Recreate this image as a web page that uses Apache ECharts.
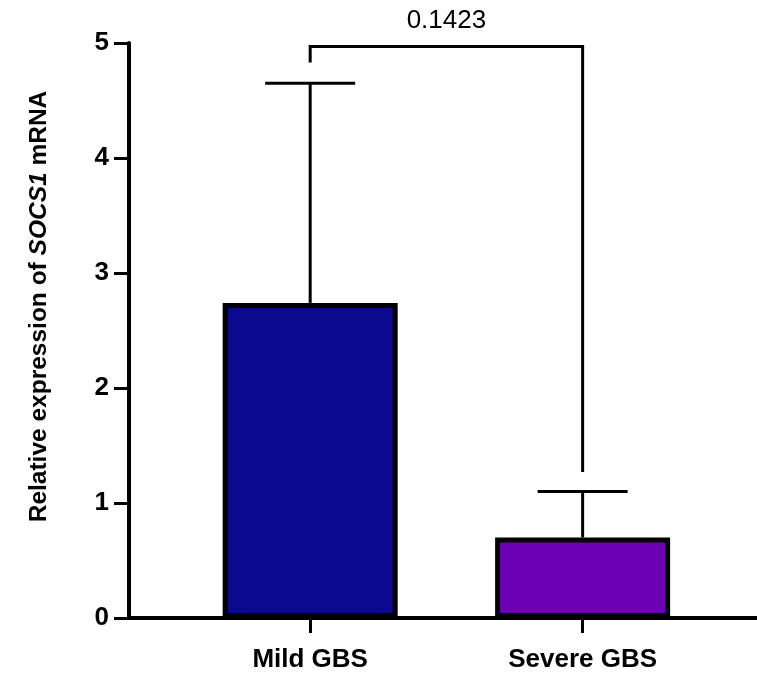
<!DOCTYPE html>
<html>
<head>
<meta charset="utf-8">
<script src="https://cdn.jsdelivr.net/npm/echarts@6/dist/echarts.min.js"></script>
<style>
html,body{margin:0;padding:0;background:#fff;}
#chart{width:757px;height:679px;}
</style>
</head>
<body>
<div id="chart"></div>
<script>
// ---- data ----
const categories = ['Mild GBS', 'Severe GBS'];
const categoryPositions = [0, 1];
const means = [2.74, 0.70];
const errorUpper = [4.65, 1.10];
const barColors = ['#0b0a8e', '#6b03b5'];
const yTicks = [0, 1, 2, 3, 4, 5];
const pValueLabel = '0.1423';
const bracketTop = 4.97;
const bracketLegEnds = [4.83, 1.27];

const FONT = '"Liberation Sans", Arial, sans-serif';

const chart = echarts.init(document.getElementById('chart'), null, {renderer: 'canvas'});

const barData = categoryPositions.map((x, i) => ({
  value: [x, means[i]],
  itemStyle: {color: barColors[i]}
}));
const errData = categoryPositions.map((x, i) => [x, means[i], errorUpper[i]]);
const bracketData = [[categoryPositions[0], categoryPositions[1], bracketTop, bracketLegEnds[0], bracketLegEnds[1]]];

const option = {
  animation: false,
  backgroundColor: '#ffffff',
  grid: {left: 129, right: 0, top: 43, bottom: 61, containLabel: false},
  xAxis: {
    type: 'value',
    min: -0.665,
    max: 1.64,
    splitLine: {show: false},
    axisLine: {show: true, onZero: false, lineStyle: {color: '#000', width: 4}},
    axisTick: {show: true, customValues: categoryPositions, length: 15, lineStyle: {color: '#000', width: 3}},
    axisLabel: {
      show: true,
      customValues: categoryPositions,
      formatter: v => categories[Math.round(v)] || '',
      margin: 29,
      color: '#000',
      fontFamily: FONT,
      fontWeight: 'bold',
      fontSize: 26
    }
  },
  yAxis: {
    type: 'value',
    min: 0,
    max: 5,
    interval: 1,
    splitLine: {show: false},
    axisLine: {show: true, onZero: false, lineStyle: {color: '#000', width: 4}},
    axisTick: {show: true, length: 15, lineStyle: {color: '#000', width: 3}},
    axisLabel: {
      margin: 20,
      color: '#000',
      fontFamily: FONT,
      fontWeight: 'bold',
      fontSize: 26,
      formatter: v => yTicks.includes(v) ? String(v) : ''
    },
    name: '{a|Relative expression of }{b|SOCS1}{a| mRNA}',
    nameLocation: 'middle',
    nameGap: 77,
    nameRotate: 90,
    nameTextStyle: {
      padding: [0, 0, 0, 48],
      rich: {
        a: {fontFamily: FONT, fontWeight: 'bold', fontSize: 24.5, color: '#000'},
        b: {fontFamily: FONT, fontWeight: 'bold', fontStyle: 'italic', fontSize: 24.5, color: '#000'}
      }
    }
  },
  series: [
    {
      type: 'bar',
      data: barData,
      barWidth: 175,
      itemStyle: {borderColor: '#000', borderWidth: 5},
      z: 2
    },
    {
      type: 'custom',
      data: errData,
      z: 3,
      renderItem: function (params, api) {
        const x = api.value(0);
        const base = api.coord([x, api.value(1)]);
        const top = api.coord([x, api.value(2)]);
        const half = 45;
        return {
          type: 'group',
          children: [
            {type: 'line', shape: {x1: base[0], y1: base[1], x2: top[0], y2: top[1]}, style: {stroke: '#000', lineWidth: 3}},
            {type: 'line', shape: {x1: top[0] - half, y1: top[1], x2: top[0] + half, y2: top[1]}, style: {stroke: '#000', lineWidth: 3}}
          ]
        };
      }
    },
    {
      type: 'custom',
      data: bracketData,
      z: 3,
      clip: false,
      renderItem: function (params, api) {
        const xa = api.value(0), xb = api.value(1), yt = api.value(2);
        const p0 = api.coord([xa, api.value(3)]);
        const p1 = api.coord([xa, yt]);
        const p2 = api.coord([xb, yt]);
        const p3 = api.coord([xb, api.value(4)]);
        return {
          type: 'group',
          children: [
            {type: 'polyline', shape: {points: [p0, p1, p2, p3]}, style: {stroke: '#000', lineWidth: 3, fill: null}},
            {type: 'text', x: (p1[0] + p2[0]) / 2, y: p1[1] - 13,
              style: {text: pValueLabel, fill: '#000', font: '26px ' + FONT, textAlign: 'center', textVerticalAlign: 'bottom'}}
          ]
        };
      }
    }
  ]
};
chart.setOption(option);
</script>
</body>
</html>
